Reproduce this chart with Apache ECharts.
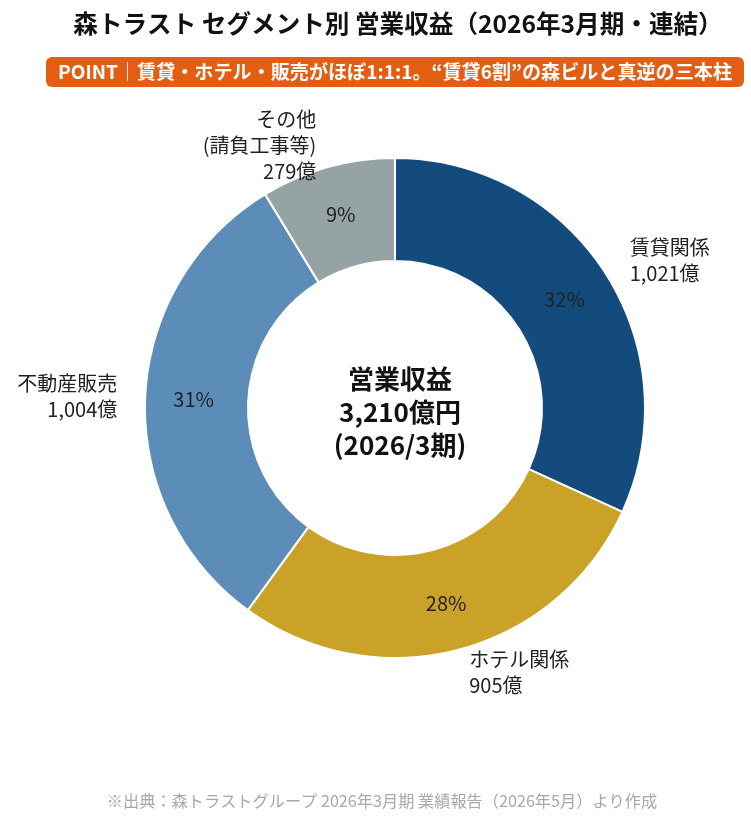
<!DOCTYPE html>
<html>
<head>
<meta charset="utf-8">
<script src="https://cdn.jsdelivr.net/npm/echarts@6/dist/echarts.min.js"></script>
<style>
  html, body { margin: 0; padding: 0; background: #fff; }
  #main { width: 751px; height: 820px; }
</style>
</head>
<body>
<div id="main"></div>
<script>
var segNames = ['賃貸関係', 'ホテル関係', '不動産販売', 'その他\n(請負工事等)'];
var segValues = [1021, 905, 1004, 279];
var segPct = ['32%', '28%', '31%', '9%'];
var segColors = ['#134b7c', '#c9a227', '#5b8db8', '#95a3a4'];

var FONT = '"Noto Sans CJK JP", "Noto Sans", sans-serif';

var myChart = echarts.init(document.getElementById('main'));

var dataOuter = segNames.map(function (n, i) {
    return { name: n, value: segValues[i], itemStyle: { color: segColors[i] } };
});
var dataInner = segNames.map(function (n, i) {
    return { name: n, value: segValues[i], pct: segPct[i] };
});

var option = {
    backgroundColor: '#fff',
    textStyle: { fontFamily: FONT },
    title: [
        {
            text: '森トラスト セグメント別 営業収益（2026年3月期・連結）',
            left: 393,
            textAlign: 'center',
            top: 6,
            textStyle: { fontFamily: FONT, fontSize: 24.6, fontWeight: 'bold', color: '#111' }
        },
        {
            text: 'POINT｜賃貸・ホテル・販売がほぼ1:1:1。“賃貸6割”の森ビルと真逆の三本柱',
            left: 46,
            top: 57,
            backgroundColor: '#e35e12',
            borderRadius: 6,
            padding: [5, 12, 5, 12],
            textStyle: { fontFamily: FONT, fontSize: 19.1, lineHeight: 20, fontWeight: 'bold', color: '#fff' }
        },
        {
            text: '営業収益\n3,210億円\n(2026/3期)',
            left: 395,
            top: 358,
            textAlign: 'center',
            textStyle: { fontFamily: FONT, fontSize: 26, fontWeight: 'bold', color: '#111', lineHeight: 33 }
        },
        {
            text: '※出典：森トラストグループ 2026年3月期 業績報告（2026年5月）より作成',
            left: 377,
            textAlign: 'center',
            top: 788,
            textStyle: { fontFamily: FONT, fontSize: 16.2, fontWeight: 'normal', color: '#a8a8a8' }
        }
    ],
    series: [
        {
            type: 'pie',
            center: [395, 408],
            radius: [147, 250],
            startAngle: 90,
            clockwise: true,
            avoidLabelOverlap: false,
            silent: true,
            itemStyle: { borderColor: '#fff', borderWidth: 2 },
            label: {
                show: true,
                position: 'outside',
                fontFamily: FONT,
                fontSize: 20,
                color: '#222',
                lineHeight: 26,
                formatter: function (p) { return p.name + '\n' + p.value.toLocaleString('en-US') + '億'; }
            },
            labelLine: { show: false, length: 23, length2: 0 },
            data: dataOuter
        },
        {
            type: 'pie',
            center: [395, 408],
            radius: [147, 250],
            startAngle: 90,
            clockwise: true,
            silent: true,
            itemStyle: { color: 'rgba(0,0,0,0)', borderWidth: 0 },
            label: {
                show: true,
                position: 'inside',
                fontFamily: FONT,
                fontSize: 20,
                color: '#222',
                formatter: function (p) { return p.data.pct; }
            },
            labelLine: { show: false },
            data: dataInner
        }
    ]
};
myChart.setOption(option);
</script>
</body>
</html>
